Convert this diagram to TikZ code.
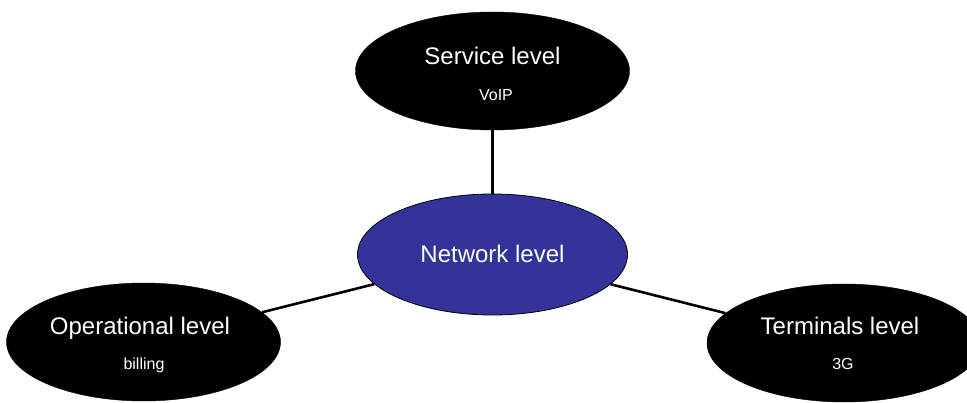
\documentclass[tikz,border=0pt]{standalone}
\usepackage{fontspec}
\setmainfont{Liberation Sans}
\usetikzlibrary{shapes.geometric}
\definecolor{netblue}{RGB}{51,51,153}
\tikzset{
  levelshape/.style={ellipse, inner sep=0pt, minimum width=274pt, minimum height=118pt},
  outerlevel/.style={levelshape, fill=black, draw=black},
  corelevel/.style={levelshape, fill=netblue, draw=black, line width=0.8pt, minimum width=270pt, minimum height=121pt},
  headtext/.style={anchor=base, text=white, font=\fontsize{24}{28}\selectfont, inner sep=0pt},
  subtext/.style={anchor=base, text=white, font=\fontsize{16}{19}\selectfont, inner sep=0pt},
  link/.style={line width=2.6pt, black}
}
\begin{document}
\begin{tikzpicture}[x=1pt,y=-1pt]
\useasboundingbox (0,0) rectangle (967,403);
% the four levels
\node[outerlevel] (svc) at (492.5,71) {};
\node[corelevel] (net) at (492.5,254.5) {};
\node[outerlevel] (ops) at (143.5,342) {};
\node[outerlevel] (term) at (844,343) {};
% links from the network level to the others
\draw[link] (svc) -- (net);
\draw[link] (net) -- (ops);
\draw[link] (net) -- (term);
% labels
\node[headtext] (svcT) at (492.5,65) {Service level};
\node[subtext] (svcS) at (496,101) {VoIP};
\node[headtext] (netT) at (492.5,263) {Network level};
\node[headtext] (opsT) at (140,335) {Operational level};
\node[subtext] (opsS) at (144,370) {billing};
\node[headtext] (termT) at (840,335) {Terminals level};
\node[subtext] (termS) at (843,370) {3G};
\end{tikzpicture}
\end{document}
